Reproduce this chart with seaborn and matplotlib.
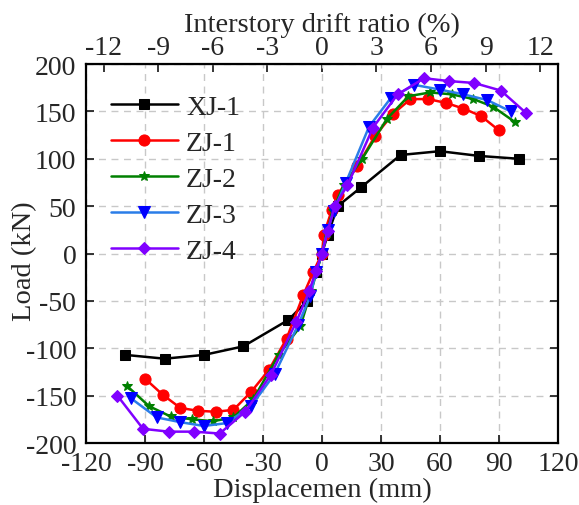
import matplotlib
matplotlib.use("Agg")
import matplotlib.pyplot as plt
import seaborn as sns

sns.set_style("ticks")
plt.rcParams['font.family'] = ['Liberation Serif', 'DejaVu Serif']
plt.rcParams['axes.unicode_minus'] = False

# @@ Data (displacement in mm, load in kN)
xj1_x = [-100, -80, -60, -40, -17, -7.5, -3, 0, 3, 8, 20, 40, 60, 80, 100]
xj1_y = [-107, -111, -107, -98, -70, -50, -20, 0, 20, 50, 70, 104, 108, 103, 100]

zj1_x = [-90, -81, -72, -63, -54, -45, -36, -27, -18, -9.5, -4.5, 0, 1, 5, 8, 18, 27, 36, 45, 54, 63, 72, 81, 90]
zj1_y = [-132, -149, -163, -166, -167, -165, -146, -123, -90, -44, -20, 0, 20, 46, 62, 92, 124, 147, 163, 163, 159, 153, 145, 130]

zj2_x = [-99, -88, -77, -66, -55.5, -45, -35, -22, -11, -5.5, -2.5, 0, 2.5, 5.5, 11, 20.5, 33, 44, 55, 66, 77, 87, 98]
zj2_y = [-140, -161, -172, -175, -177, -173, -154, -107, -77, -40, -18, 0, 22, 45, 72, 100, 142, 166, 170, 168, 163, 155, 139]

zj3_x = [-97, -84, -72, -60, -48.5, -36, -24, -12, -6, -3, 0, 3, 6, 12, 24, 35, 47, 60, 72, 84, 96]
zj3_y = [-153, -173, -178, -182, -179, -161, -127, -75, -45, -20, 0, 25, 45, 74, 134, 164, 178, 173, 168, 162, 150]

zj4_x = [-104, -91, -78, -65, -52, -39, -26, -13, -6.5, -3, 0, 3, 6.5, 13, 26, 38.5, 52, 64.6, 77.4, 91, 104]
zj4_y = [-150, -185, -188, -188, -190, -167, -128, -72, -40, -18, 0, 24, 50, 72, 133, 168, 185, 182, 180, 172, 148]

names = ["XJ-1", "ZJ-1", "ZJ-2", "ZJ-3", "ZJ-4"]
# @@

series = [(xj1_x, xj1_y), (zj1_x, zj1_y), (zj2_x, zj2_y), (zj3_x, zj3_y), (zj4_x, zj4_y)]
line_colors = ["black", "#ff0000", "#008000", "#2a7de8", "#8000ff"]
marker_colors = ["black", "#ff0000", "#008000", "#0000ff", "#8000ff"]
markers = ["s", "o", "*", "v", "D"]
msizes = [7.5, 8, 7.5, 8.5, 6.5]

fig = plt.figure(figsize=(5.79, 5.06), dpi=100)
ax = fig.add_axes([0.1485, 0.1225, 0.815, 0.749])

for (xs, ys), name, lc, mc, mk, ms in zip(series, names, line_colors, marker_colors, markers, msizes):
    sns.lineplot(x=xs, y=ys, ax=ax, sort=False, estimator=None, color=lc, lw=1.8,
                 marker=mk, markersize=ms, markerfacecolor=mc, markeredgecolor=mc,
                 label=name)

ax.set_xlim(-120, 120)
ax.set_ylim(-200, 200)
ax.set_xticks(range(-120, 121, 30))
ax.set_yticks(range(-200, 201, 50))
ax.grid(True, ls=(0, (5, 4)), color="#c8c8c8", lw=1)
ax.tick_params(direction="in", labelsize=20, length=6, width=1.3, right=True, top=False)
ax.tick_params(axis="x", pad=6)
ax.tick_params(axis="y", pad=7)
for sp in ax.spines.values():
    sp.set_linewidth(1.6)
    sp.set_color("black")

ax.set_xlabel("Displacemen (mm)", fontsize=20.5, labelpad=0)
ax.set_ylabel("Load (kN)", fontsize=20.5)
ax.yaxis.set_label_coords(-0.104, 0.483)

h = 9.25  # mm per 1 % drift
top = ax.secondary_xaxis("top", functions=(lambda x: x / h, lambda x: x * h))
top.set_xticks(range(-12, 13, 3))
top.tick_params(direction="in", labelsize=20, length=6, width=1.3, pad=3)
top.set_xlabel("Interstory drift ratio (%)", fontsize=20.5, labelpad=3)

leg = ax.legend(loc="upper left", bbox_to_anchor=(0.0, 0.985), frameon=False, fontsize=20,
                handlelength=2.4, handletextpad=0.3, labelspacing=0.38, borderaxespad=0.5)

fig.savefig("out.png", dpi=100)
